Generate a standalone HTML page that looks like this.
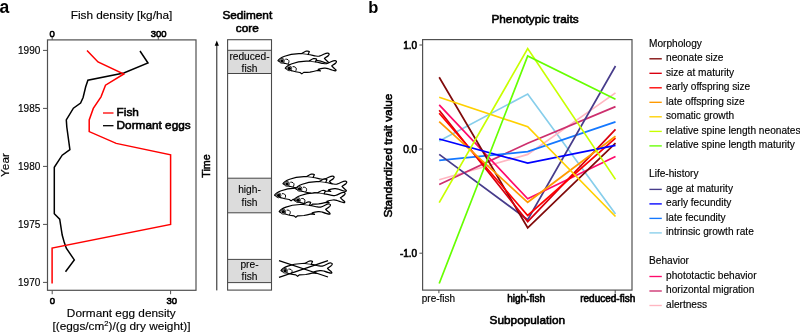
<!DOCTYPE html>
<html><head><meta charset="utf-8"><title>Figure</title>
<style>html,body{margin:0;padding:0;background:#fff;}svg{display:block;will-change:transform;}text{font-family:"Liberation Sans", sans-serif;fill:#000;}.t{font-size:11.8px;stroke:#000;stroke-width:0.15px;}.tb{font-size:11.8px;stroke:#000;stroke-width:0.6px;}.tk{font-size:10px;stroke:#000;stroke-width:0.15px;}.tkb{font-size:10px;stroke:#000;stroke-width:0.6px;}.lg{font-size:10.15px;stroke:#000;stroke-width:0.15px;}.band{font-size:10.2px;stroke:#000;stroke-width:0.1px;}</style></head><body>
<svg width="800" height="334" viewBox="0 0 800 334">
<rect x="0" y="0" width="800" height="334" fill="#fff"/>
<defs>
<g id="fish"><path d="M0,0 C0.8,-1.5 3.5,-3.3 6.75,-4.5 C10,-5.7 15,-6.8 21,-7.1 L23.8,-7.15 C25.5,-8 27,-9.3 28.3,-9.5 C29.5,-9.7 31,-9.6 31.5,-9.1 L30.2,-6.2 C33,-5.8 36,-5 38,-4.7 C39.5,-4.5 40.5,-4.4 41.3,-4.5 C43,-5 45,-6 45.8,-6.4 C47.5,-7.2 49,-7.8 50,-7.6 C51.3,-7.3 51.8,-6.5 50.6,-5.25 C49.5,-4.2 47.5,-3 46.5,-2.25 C47.5,-1 49.5,0.5 50.6,1.5 C51.2,2.2 50.8,2.7 50,2.6 C48.5,2.5 45,1.2 42.8,0.4 C41.5,0 40,-0.1 39,0 C37.5,0.2 35,0.6 33,1.2 L35.3,2.7 L32,2.3 C30,2.8 27,3.5 24.75,3.9 C22,4.2 20,4.2 18.5,4.2 L16.6,5.7 L14.8,4.3 C12,3.9 9,3.3 6.75,2.6 C4,1.9 1,1 0,0 Z" fill="#fff" stroke="#000" stroke-width="1.2" stroke-linejoin="round"/><path d="M23.8,-7.1 L30.2,-6.2" fill="none" stroke="#000" stroke-width="0.8"/><path d="M7.4,-1.5 C9.5,-1.9 11.3,-0.6 11.1,0.9 C11,2 10.6,2.7 10.1,3.2" fill="none" stroke="#000" stroke-width="1"/><circle cx="4.0" cy="0.15" r="2.45" fill="#fff" stroke="#000" stroke-width="0.8"/><circle cx="4.1" cy="0.2" r="1.75" fill="#000"/></g>
</defs>
<text x="-0.5" y="13" font-size="17.5" font-weight="bold">a</text>
<text class="t" x="121.5" y="19.3" text-anchor="middle">Fish density [kg/ha]</text>
<rect x="47.5" y="39.9" width="148.5" height="250.4" fill="none" stroke="#505050" stroke-width="1.2"/>
<line x1="43" y1="50.4" x2="47.5" y2="50.4" stroke="#505050" stroke-width="1"/>
<text class="tk" x="40.3" y="53.8" text-anchor="end">1990</text>
<line x1="43" y1="108.4" x2="47.5" y2="108.4" stroke="#505050" stroke-width="1"/>
<text class="tk" x="40.3" y="111.8" text-anchor="end">1985</text>
<line x1="43" y1="166.4" x2="47.5" y2="166.4" stroke="#505050" stroke-width="1"/>
<text class="tk" x="40.3" y="169.8" text-anchor="end">1980</text>
<line x1="43" y1="224.4" x2="47.5" y2="224.4" stroke="#505050" stroke-width="1"/>
<text class="tk" x="40.3" y="227.8" text-anchor="end">1975</text>
<line x1="43" y1="282.4" x2="47.5" y2="282.4" stroke="#505050" stroke-width="1"/>
<text class="tk" x="40.3" y="285.8" text-anchor="end">1970</text>
<text class="t" transform="translate(8.6,165) rotate(-90)" text-anchor="middle">Year</text>
<line x1="52.2" y1="36.8" x2="52.2" y2="39.9" stroke="#505050" stroke-width="1"/>
<text class="tkb" style="font-size:9.5px" x="52.2" y="37.0" text-anchor="middle">0</text>
<line x1="158.3" y1="36.8" x2="158.3" y2="39.9" stroke="#505050" stroke-width="1"/>
<text class="tkb" style="font-size:9.5px" x="158.7" y="37.0" text-anchor="middle">300</text>
<line x1="52.2" y1="290.3" x2="52.2" y2="294.2" stroke="#505050" stroke-width="1"/>
<text class="tkb" style="font-size:9.5px" x="52.4" y="303.9" text-anchor="middle">0</text>
<line x1="170.6" y1="290.3" x2="170.6" y2="294.2" stroke="#505050" stroke-width="1"/>
<text class="tkb" style="font-size:9.5px" x="171.8" y="303.9" text-anchor="middle">30</text>
<text class="t" x="121.3" y="316.9" text-anchor="middle">Dormant egg density</text>
<text class="t" x="121.5" y="330.2" text-anchor="middle">[(eggs/cm<tspan dy="-4" font-size="7.5">2</tspan><tspan dy="4">)/(g dry weight)]</tspan></text>
<polyline points="140.0,51.0 148.0,63.0 123.8,73.0 87.9,80.2 85.7,86.8 83.1,97.5 80.6,103.1 73.4,108.2 66.3,119.9 66.8,127.0 69.9,149.6 62.2,155.2 54.3,167.3 54.3,213.7 59.7,219.2 62.2,235.0 64.3,242.6 66.3,248.2 74.3,259.9 65.5,271.8" fill="none" stroke="#000" stroke-width="1.5" stroke-linejoin="miter" />
<polyline points="87.0,50.4 98.0,62.0 123.8,74.0 105.5,85.2 101.0,96.8 93.3,108.4 89.2,120.0 89.2,131.6 116.2,143.4 170.6,154.8 170.6,224.4 52.1,248.1 52.1,283.4" fill="none" stroke="#ff0000" stroke-width="1.5" stroke-linejoin="miter" />
<line x1="103" y1="113" x2="113.5" y2="113" stroke="#ff0000" stroke-width="1.3"/>
<line x1="103" y1="125.7" x2="113.5" y2="125.7" stroke="#000" stroke-width="1.3"/>
<text class="tb" x="116.6" y="116.3">Fish</text>
<text class="tb" x="116.6" y="129.2">Dormant eggs</text>
<text class="tb" x="247.3" y="19.4" text-anchor="middle">Sediment</text>
<text class="tb" x="247.3" y="32.1" text-anchor="middle">core</text>
<line x1="216.8" y1="290.4" x2="216.8" y2="44" stroke="#000" stroke-width="0.9"/>
<path d="M216.8,40.5 L214.7,45.7 L218.9,45.7 Z" fill="#000"/>
<text class="tb" style="font-size:10.7px;stroke-width:0.5px" transform="translate(209.5,166) rotate(-90)" text-anchor="middle">Time</text>
<rect x="227.6" y="50.3" width="44" height="23.2" fill="#dcdcdc"/>
<line x1="227.6" y1="50.3" x2="271.6" y2="50.3" stroke="#333" stroke-width="0.9"/>
<line x1="227.6" y1="73.5" x2="271.6" y2="73.5" stroke="#333" stroke-width="0.9"/>
<rect x="227.6" y="178.2" width="44" height="34.6" fill="#dcdcdc"/>
<line x1="227.6" y1="178.2" x2="271.6" y2="178.2" stroke="#333" stroke-width="0.9"/>
<line x1="227.6" y1="212.8" x2="271.6" y2="212.8" stroke="#333" stroke-width="0.9"/>
<rect x="227.6" y="259.4" width="44" height="23.2" fill="#dcdcdc"/>
<line x1="227.6" y1="259.4" x2="271.6" y2="259.4" stroke="#333" stroke-width="0.9"/>
<line x1="227.6" y1="282.6" x2="271.6" y2="282.6" stroke="#333" stroke-width="0.9"/>
<rect x="227.6" y="39.7" width="43.9" height="250.4" fill="none" stroke="#4a4a4a" stroke-width="1.1"/>
<text class="band" x="249.5" y="59.6" text-anchor="middle">reduced-</text>
<text class="band" x="249.5" y="72.0" text-anchor="middle">fish</text>
<text class="band" x="249.5" y="193.1" text-anchor="middle">high-</text>
<text class="band" x="249.5" y="205.5" text-anchor="middle">fish</text>
<text class="band" x="249.5" y="267.6" text-anchor="middle">pre-</text>
<text class="band" x="249.5" y="280.1" text-anchor="middle">fish</text>
<use href="#fish" transform="translate(277.9,60.7) scale(1.0)"/>
<use href="#fish" transform="translate(285.2,68.2) scale(1.0)"/>
<use href="#fish" transform="translate(282.9,183.7) scale(1.0)"/>
<use href="#fish" transform="translate(274.5,195.2) scale(1.0)"/>
<use href="#fish" transform="translate(295.5,188.7) scale(1.0)"/>
<use href="#fish" transform="translate(293.9,200) scale(1.0)"/>
<use href="#fish" transform="translate(279.2,211.6) scale(1.0)"/>
<use href="#fish" transform="translate(281,270.6) scale(1.0)"/>
<line x1="279" y1="260.6" x2="328" y2="277" stroke="#000" stroke-width="1.2"/>
<line x1="279" y1="277.4" x2="328" y2="260.6" stroke="#000" stroke-width="1.2"/>
<text x="368.2" y="13" font-size="16.5" font-weight="bold">b</text>
<text class="tb" x="535" y="22.6" text-anchor="middle">Phenotypic traits</text>
<rect x="422.6" y="39.6" width="209.4" height="250.5" fill="none" stroke="#505050" stroke-width="1.2"/>
<line x1="419.4" y1="45.0" x2="422.6" y2="45.0" stroke="#505050" stroke-width="1"/>
<text class="tkb" x="417.2" y="48.6" text-anchor="end">1.0</text>
<line x1="419.4" y1="149.0" x2="422.6" y2="149.0" stroke="#505050" stroke-width="1"/>
<text class="tkb" x="417.2" y="152.6" text-anchor="end">0.0</text>
<line x1="419.4" y1="253.2" x2="422.6" y2="253.2" stroke="#505050" stroke-width="1"/>
<text class="tkb" x="417.2" y="256.8" text-anchor="end">-1.0</text>
<text class="tb" transform="translate(392.4,155.6) rotate(-90)" text-anchor="middle">Standardized trait value</text>
<line x1="438.9" y1="290" x2="438.9" y2="293.2" stroke="#505050" stroke-width="1"/>
<line x1="527.4000000000001" y1="290" x2="527.4000000000001" y2="293.2" stroke="#505050" stroke-width="1"/>
<line x1="615.2" y1="290" x2="615.2" y2="293.2" stroke="#505050" stroke-width="1"/>
<text class="tk" style="font-size:10px" x="438.5" y="301.5" text-anchor="middle">pre-fish</text>
<text class="tkb" style="font-size:10px" x="526.1" y="301.6" text-anchor="middle">high-fish</text>
<text class="tkb" style="font-size:10px" x="607.7" y="301.6" text-anchor="middle">reduced-fish</text>
<text class="tb" x="527.3" y="324" text-anchor="middle">Subpopulation</text>
<polyline points="439.2,141.0 527.7,94.0 615.5,214.0" fill="none" stroke="#87ceeb" stroke-width="1.7" stroke-linejoin="miter" />
<polyline points="439.2,179.8 527.7,154.4 615.5,92.9" fill="none" stroke="#ffb6c1" stroke-width="1.7" stroke-linejoin="miter" />
<polyline points="439.2,184.4 527.7,143.2 615.5,106.6" fill="none" stroke="#cd2f6e" stroke-width="1.7" stroke-linejoin="miter" />
<polyline points="439.2,160.3 527.7,151.6 615.5,121.9" fill="none" stroke="#1478ff" stroke-width="1.7" stroke-linejoin="miter" />
<polyline points="439.2,154.4 527.7,219.7 615.5,66.0" fill="none" stroke="#473c8b" stroke-width="1.7" stroke-linejoin="miter" />
<polyline points="439.2,104.9 527.7,198.8 615.5,156.6" fill="none" stroke="#ff0a6c" stroke-width="1.7" stroke-linejoin="miter" />
<polyline points="439.2,77.3 527.7,227.8 615.5,143.2" fill="none" stroke="#800a0a" stroke-width="1.7" stroke-linejoin="miter" />
<polyline points="439.2,110.2 527.7,221.6 615.5,129.3" fill="none" stroke="#d90010" stroke-width="1.7" stroke-linejoin="miter" />
<polyline points="439.2,113.2 527.7,215.5 615.5,138.1" fill="none" stroke="#ff0000" stroke-width="1.7" stroke-linejoin="miter" />
<polyline points="439.2,121.6 527.7,202.3 615.5,136.3" fill="none" stroke="#ff9a00" stroke-width="1.7" stroke-linejoin="miter" />
<polyline points="439.2,139.0 527.7,163.1 615.5,145.3" fill="none" stroke="#0000ff" stroke-width="1.7" stroke-linejoin="miter" />
<polyline points="439.2,97.3 527.7,126.7 615.5,216.5" fill="none" stroke="#ffd000" stroke-width="1.7" stroke-linejoin="miter" />
<polyline points="439.2,202.7 527.7,48.6 615.5,179.4" fill="none" stroke="#c8ff00" stroke-width="1.7" stroke-linejoin="miter" />
<polyline points="439.2,283.5 527.7,56.0 615.5,99.2" fill="none" stroke="#66ff00" stroke-width="1.7" stroke-linejoin="miter" />
<text class="lg" x="649" y="46.7">Morphology</text>
<line x1="649.4" y1="58.8" x2="661.8" y2="58.8" stroke="#800a0a" stroke-width="1.35"/>
<text class="lg" x="666" y="61.2">neonate size</text>
<line x1="649.4" y1="73.3" x2="661.8" y2="73.3" stroke="#d90010" stroke-width="1.35"/>
<text class="lg" x="666" y="75.7">size at maturity</text>
<line x1="649.4" y1="87.8" x2="661.8" y2="87.8" stroke="#ff0000" stroke-width="1.35"/>
<text class="lg" x="666" y="90.2">early offspring size</text>
<line x1="649.4" y1="102.3" x2="661.8" y2="102.3" stroke="#ff9a00" stroke-width="1.35"/>
<text class="lg" x="666" y="104.7">late offspring size</text>
<line x1="649.4" y1="116.8" x2="661.8" y2="116.8" stroke="#ffd000" stroke-width="1.35"/>
<text class="lg" x="666" y="119.2">somatic growth</text>
<line x1="649.4" y1="131.4" x2="661.8" y2="131.4" stroke="#c8ff00" stroke-width="1.35"/>
<text class="lg" x="666" y="133.8">relative spine length neonates</text>
<line x1="649.4" y1="145.9" x2="661.8" y2="145.9" stroke="#66ff00" stroke-width="1.35"/>
<text class="lg" x="666" y="148.3">relative spine length maturity</text>
<text class="lg" x="649" y="177.3">Life-history</text>
<line x1="649.4" y1="189.4" x2="661.8" y2="189.4" stroke="#473c8b" stroke-width="1.35"/>
<text class="lg" x="666" y="191.8">age at maturity</text>
<line x1="649.4" y1="203.9" x2="661.8" y2="203.9" stroke="#0000ff" stroke-width="1.35"/>
<text class="lg" x="666" y="206.3">early fecundity</text>
<line x1="649.4" y1="218.4" x2="661.8" y2="218.4" stroke="#1478ff" stroke-width="1.35"/>
<text class="lg" x="666" y="220.8">late fecundity</text>
<line x1="649.4" y1="232.9" x2="661.8" y2="232.9" stroke="#87ceeb" stroke-width="1.35"/>
<text class="lg" x="666" y="235.3">intrinsic growth rate</text>
<text class="lg" x="649" y="264.4">Behavior</text>
<line x1="649.4" y1="276.5" x2="661.8" y2="276.5" stroke="#ff0a6c" stroke-width="1.35"/>
<text class="lg" x="666" y="278.9">phototactic behavior</text>
<line x1="649.4" y1="291.0" x2="661.8" y2="291.0" stroke="#cd2f6e" stroke-width="1.35"/>
<text class="lg" x="666" y="293.4">horizontal migration</text>
<line x1="649.4" y1="305.5" x2="661.8" y2="305.5" stroke="#ffb6c1" stroke-width="1.35"/>
<text class="lg" x="666" y="307.9">alertness</text>
</svg></body></html>
